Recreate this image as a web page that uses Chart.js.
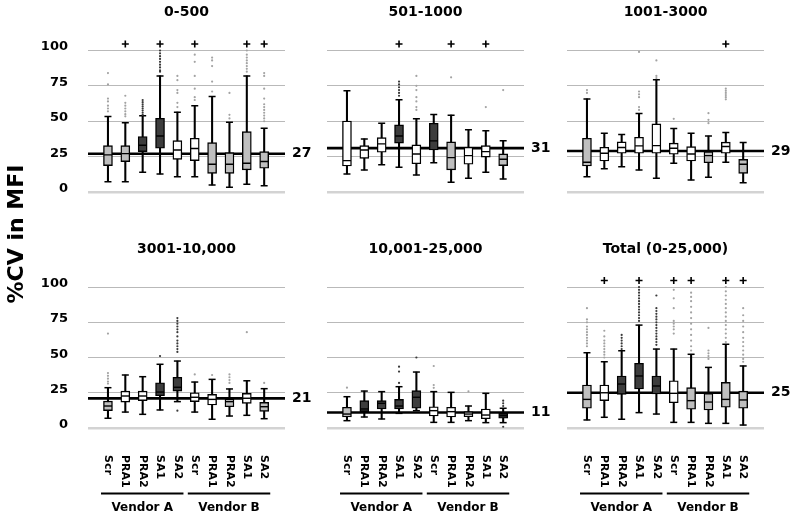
<!DOCTYPE html>
<html>
<head>
<meta charset="utf-8">
<script src="https://cdn.jsdelivr.net/npm/chart.js@4/dist/chart.umd.min.js"></script>
<style>
  html, body { margin: 0; background: #fff; }
  #wrap { position: relative; width: 800px; height: 519px; }
  #wrap canvas { position: absolute; left: 0; top: 0; }
  .ytick {
    position: absolute; z-index: 5; width: 40px; text-align: right;
    font: bold 13px 'DejaVu Sans', Verdana, sans-serif; line-height: 16px; color: #000;
  }
</style>
</head>
<body>
<div id="wrap"></div>
<script>
const categories = ["Scr", "PRA1", "PRA2", "SA1", "SA2", "Scr", "PRA1", "PRA2", "SA1", "SA2"]
const vendors = [{ name: "Vendor A", from: 0, to: 4 }, { name: "Vendor B", from: 5, to: 9 }]
const yTicks = [0, 25, 50, 75, 100]
const titles = ["0-500", "501-1000", "1001-3000", "3001-10,000", "10,001-25,000", "Total (0-25,000)"]
const refValues = [27, 31, 29, 21, 11, 25]

// box fill per category: g = light grey, w = white, d = dark
const fills = ["ggddwwgggg", "wwwdwdgwwg", "gwwwwwwgwg", "gwwddwwgwg", "gddddwwwwd", "gwdddwgggg"]

// each row: [whisker low, Q1, median, Q3, whisker high]
const box500 = [
  [7.3, 18.6, 26.2, 32.8, 53.3], [7.3, 21.5, 27.1, 32.8, 49], [13.9, 28.5, 33, 39.2, 53.8],
  [12.7, 30.9, 39.6, 52.1, 82], [10.8, 23.1, 29.7, 36.3, 56.4], [10.8, 22.2, 30.7, 38, 60.9],
  [5, 13.2, 19.6, 34.9, 67.4], [3.3, 13.2, 19.6, 27.8, 49.3], [5.4, 15.6, 20.3, 42.7, 82],
  [4.5, 16.8, 21.5, 28.5, 45]
]
const box1000 = [
  [12.7, 18.4, 22.2, 50.2, 71.5], [15.6, 23.8, 29.7, 32.8, 37.5], [19.3, 28.1, 34, 38.4, 48.6],
  [17.5, 34.5, 39.6, 47.4, 65.1], [12, 20, 26.9, 33.3, 51.7], [20.7, 29.7, 36.1, 48.6, 54.7],
  [6.9, 15.6, 24.3, 35.4, 54.3], [9.7, 19.6, 25.7, 31.6, 43.9], [13.9, 24.6, 28.5, 32.8, 43.2],
  [9.2, 18.6, 23.1, 26.9, 36.3]
]
const box3000 = [
  [10.8, 18.4, 21, 38, 65.8], [16.5, 21.9, 27.4, 31.6, 41.5], [17.9, 27.4, 31.4, 35.4, 40.6],
  [15.6, 27.4, 32.6, 38.7, 55.4], [9.7, 27.4, 32.8, 48.1, 79.3], [20.3, 26.7, 30.9, 34.5, 44.8],
  [8.5, 21.9, 26.9, 32.1, 41.5], [10.4, 20.7, 25.7, 28.5, 39.6], [21, 27.4, 32.1, 35.2, 42],
  [6.6, 13.2, 19.6, 23.1, 34.9]
]
const box10k = [
  [6.9, 12.3, 15.6, 19.1, 28.6], [11.3, 18.4, 22.7, 26.2, 37.6], [9.7, 19.4, 22.7, 26.2, 36.4],
  [12.8, 22.9, 25.5, 32.1, 45.2], [18.7, 26.2, 28.9, 36, 47.5], [11.3, 18.7, 21.8, 25, 32.6],
  [6.2, 16.3, 20.3, 23.9, 34.5], [8.5, 15.1, 18.7, 20.6, 27.7], [9, 17.5, 21.1, 24.6, 33.5],
  [6.6, 11.8, 15.1, 18.2, 27.9]
]
const box25k = [
  [5.2, 7.8, 9.9, 14.7, 22.2], [7.8, 11.6, 13.5, 19.4, 26.2], [6.4, 13.5, 17.5, 19.4, 25.8],
  [10.4, 13.5, 15.6, 20.3, 29.3], [12.3, 14, 21.8, 26.5, 39.7], [4, 8.5, 12.3, 15.1, 25.8],
  [4, 7.8, 11.6, 14.7, 25.3], [5.2, 8, 9.9, 11.6, 15.6], [3.8, 6.6, 9.2, 13.5, 24.6],
  [3.8, 6.9, 8.7, 10.4, 14]
]
const boxTotal = [
  [5.7, 14, 20.3, 30.5, 53.4], [7.6, 19.4, 25, 30.5, 47], [6.2, 23.9, 31.2, 36.9, 54.8],
  [10.9, 27.7, 36.9, 45.9, 73], [9.9, 24.1, 29.8, 36.9, 56], [4, 17.9, 24.6, 33.5, 56],
  [4, 13.3, 19.4, 28.6, 52.3], [3.3, 12.8, 18.4, 24.6, 43], [3.3, 14.7, 20.3, 32.4, 59.4],
  [2.1, 14, 19.9, 26.2, 44]
]

const out500 = [
  [84, 76, 66, 64, 61, 59, 57], [68, 63, 61, 59, 57, 55, 53.5], [65, 63.5, 62, 60.5, 59, 57.5, 56, 54.5],
  [100, 98, 96, 94, 92, 90, 88, 86, 85], [82, 79, 72, 70, 63, 60], [97, 92, 82, 73, 67, 65],
  [95, 93, 89, 78, 71], [70, 54.5, 52], [100, 97, 95, 93, 91, 89, 87, 85],
  [84, 82, 73, 66, 62, 60, 58, 56, 54, 52, 50]
]
const out1000 = [[], [], [], [78, 76, 74, 72, 70, 68], [82, 75, 72, 67, 64, 60, 58], [], [81], [], [60], [72]]
const out3000 = [[72, 70], [], [], [99, 71, 69, 67, 60, 58], [93, 82, 80.5], [51.7], [], [55.7, 51, 48.6], [73, 71.5, 70, 68.5, 67, 65.5], []]
const out10k = [
  [67, 39, 37, 35, 33, 31.5], [], [], [51], [78, 76, 74, 72, 70, 68, 65, 62, 60, 58, 56, 54, 12.3],
  [38], [37.6], [38, 36, 34, 32], [68], [32]
]
const out25k = [[28.6], [], [], [43.5, 40, 32], [50], [44, 30.5, 28.5], [], [26], [], [19.4, 17.5, 15.6, 0.9]]
const outTotal = [
  [85, 77, 75, 72, 70, 68, 66, 64, 62, 60, 58], [69, 65, 62, 60, 58, 56, 54, 52, 50],
  [66, 64, 62, 60, 58, 56], [100, 98, 96, 94, 92, 90, 88, 86, 84, 82, 80, 78, 76],
  [94, 85, 83, 81, 79, 77, 75, 73, 71, 69, 67, 65, 63, 61, 59], [98, 92, 85, 76, 74, 72, 70, 67],
  [96, 93, 90, 86, 82, 78, 74, 70, 66, 62, 58, 55], [71, 55, 53, 51, 49],
  [100, 97, 94, 91, 88, 85, 82, 79, 76, 73, 70, 67, 64, 61], [85, 80, 76, 72, 68, 64, 61, 58, 55, 52, 49, 47]
]

// 1 = values beyond 100 (shown as "+")
const beyond500 = [0, 1, 0, 1, 0, 1, 0, 0, 1, 1]
const beyond1000 = [0, 0, 0, 1, 0, 0, 1, 0, 1, 0]
const beyond3000 = [0, 0, 0, 0, 0, 0, 0, 0, 1, 0]
const beyond10k = [0, 0, 0, 0, 0, 0, 0, 0, 0, 0]
const beyond25k = [0, 0, 0, 0, 0, 0, 0, 0, 0, 0]
const beyondTotal = [0, 1, 0, 1, 0, 1, 1, 0, 1, 1]

const boxes = [box500, box1000, box3000, box10k, box25k, boxTotal]
const outs = [out500, out1000, out3000, out10k, out25k, outTotal]
const beyond = [beyond500, beyond1000, beyond3000, beyond10k, beyond25k, beyondTotal]

const W = 800, H = 519
const COL_LEFT = [88, 327, 567]
const PLOT_W = 197
const ROW_TOP = [43.4, 280]      // pixel of Y_TOP
const ROW_BOTTOM = [192, 428]    // pixel of 0
const X_MIN = -0.15, X_MAX = 11.2
const Y_TOP = 105                // room above the 100 line for the "+" marks
const PLUS_AT = 104.6
const FONT = "'DejaVu Sans', Verdana, sans-serif"
const FILL = { g: "#bfbfbf", w: "#ffffff", d: "#3d3d3d" }
const DOT = { g: "#a3a3a3", w: "#a3a3a3", d: "#3a3a3a" }

const decor = {
  id: "decor",
  afterDraw(chart, args, opts) {
    const { ctx, chartArea: a } = chart
    const x = chart.scales.x, y = chart.scales.y
    const top = y.getPixelForValue(yTicks[yTicks.length - 1])
    ctx.save()
    ctx.fillStyle = "#000"
    ctx.textBaseline = "middle"

    ctx.font = `bold 14px ${FONT}`
    ctx.textAlign = "center"
    ctx.fillText(opts.title, (a.left + a.right) / 2, top - 38)

    ctx.textAlign = "left"
    ctx.fillText(String(opts.ref), a.right + 7, y.getPixelForValue(opts.ref))

    if (opts.cats) {
      ctx.font = `bold 11px ${FONT}`
      ctx.textAlign = "left"
      categories.forEach((c, i) => {
        ctx.save()
        ctx.translate(x.getPixelForValue(i + 1), a.bottom + 27)
        ctx.rotate(Math.PI / 2)
        ctx.fillText(c, 0, 0)
        ctx.restore()
      })
      ctx.strokeStyle = "#000"
      ctx.lineWidth = 2
      vendors.forEach(v => {
        const x0 = x.getPixelForValue(v.from + 1 - 0.4)
        const x1 = x.getPixelForValue(v.to + 1 + 0.35)
        ctx.beginPath()
        ctx.moveTo(x0, a.bottom + 65.5)
        ctx.lineTo(x1, a.bottom + 65.5)
        ctx.stroke()
        ctx.font = `bold 12px ${FONT}`
        ctx.textAlign = "center"
        ctx.fillText(v.name, (x0 + x1) / 2, a.bottom + 80)
      })
    }

    if (opts.yTitle) {
      ctx.save()
      ctx.font = `bold 22px ${FONT}`
      ctx.translate(17, 234)
      ctx.rotate(-Math.PI / 2)
      ctx.textAlign = "center"
      ctx.fillText(opts.yTitle, 0, 0)
      ctx.restore()
    }
    ctx.restore()
  }
}

const wrap = document.getElementById("wrap")

boxes.forEach((stats, p) => {
  const col = p % 3, row = Math.floor(p / 3)
  const left = COL_LEFT[col]
  const yW = col === 0 ? 80 : 0
  const fill = fills[p]

  const canvas = document.createElement("canvas")
  canvas.width = W
  canvas.height = H
  canvas.style.width = W + "px"
  canvas.style.height = H + "px"
  wrap.appendChild(canvas)

  const dots = []
  const dotColors = []
  outs[p].forEach((list, i) => list.forEach(v => {
    dots.push({ x: i + 1, y: v })
    dotColors.push(DOT[fill[i]])
  }))

  const caps = []
  stats.forEach((b, i) => { caps.push({ x: i + 1, y: b[0] }); caps.push({ x: i + 1, y: b[4] }) })

  const plus = []
  beyond[p].forEach((f, i) => { if (f) plus.push({ x: i + 1, y: PLUS_AT }) })

  const chart = new Chart(canvas.getContext("2d"), {
    type: "bar",
    data: {
      datasets: [
        {
          type: "line",
          data: [{ x: X_MIN, y: refValues[p] }, { x: X_MAX, y: refValues[p] }],
          borderColor: "#000",
          borderWidth: 2.6,
          pointRadius: 0,
          order: 10
        },
        {
          type: "bar",
          data: stats.map((b, i) => ({ x: i + 1, y: [b[0], b[4]] })),
          backgroundColor: "#000",
          borderWidth: 0,
          barThickness: 1.4,
          grouped: false,
          order: 9
        },
        {
          type: "bar",
          data: stats.map((b, i) => ({ x: i + 1, y: [b[1], b[3]] })),
          backgroundColor: stats.map((b, i) => FILL[fill[i]]),
          borderColor: "#000",
          borderWidth: 1.4,
          borderSkipped: false,
          barThickness: 9,
          grouped: false,
          order: 8
        },
        {
          type: "scatter",
          data: caps,
          pointStyle: "line",
          pointRadius: 3.5,
          borderColor: "#000",
          borderWidth: 1.5,
          order: 7
        },
        {
          type: "scatter",
          data: stats.map((b, i) => ({ x: i + 1, y: b[2] })),
          pointStyle: "line",
          pointRadius: 4,
          borderColor: "#000",
          borderWidth: 1.4,
          order: 6
        },
        {
          type: "scatter",
          data: dots,
          pointRadius: 1.1,
          backgroundColor: dotColors,
          borderWidth: 0,
          order: 5
        },
        {
          type: "scatter",
          data: plus,
          pointStyle: "cross",
          pointRadius: 3.5,
          borderColor: "#000",
          borderWidth: 1.6,
          clip: false,
          order: 4
        }
      ]
    },
    options: {
      responsive: false,
      animation: false,
      events: [],
      layout: {
        padding: {
          left: left - yW,
          right: W - left - PLOT_W,
          top: ROW_TOP[row],
          bottom: H - ROW_BOTTOM[row]
        }
      },
      scales: {
        x: { type: "linear", min: X_MIN, max: X_MAX, offset: false, display: false },
        y: {
          min: 0,
          max: Y_TOP,
          afterBuildTicks(scale) { scale.ticks = yTicks.map(v => ({ value: v })) },
          afterFit(scale) { scale.width = yW },
          border: { display: false },
          grid: {
            drawTicks: false,
            color: c => c.tick && c.tick.value === 0 ? "#d3d3d3" : "#b9b9b9",
            lineWidth: c => c.tick && c.tick.value === 0 ? 2.5 : 1
          },
          ticks: { display: false }
        }
      },
      plugins: {
        legend: { display: false },
        tooltip: { enabled: false },
        decor: {
          title: titles[p],
          ref: refValues[p],
          cats: row === 1,
          yTitle: p === 0 ? "%CV in MFI" : null
        }
      }
    },
    plugins: [decor]
  })

  // y tick labels for the left column, placed from the chart's own y scale
  if (col === 0) {
    const y = chart.scales.y
    const a = chart.chartArea
    y.ticks.forEach(t => {
      const d = document.createElement("div")
      d.className = "ytick"
      d.textContent = String(t.value)
      d.style.left = (a.left - 20 - 40) + "px"
      d.style.top = (y.getPixelForValue(t.value) - 4 - 8) + "px"
      wrap.appendChild(d)
    })
  }
})
</script>
</body>
</html>
